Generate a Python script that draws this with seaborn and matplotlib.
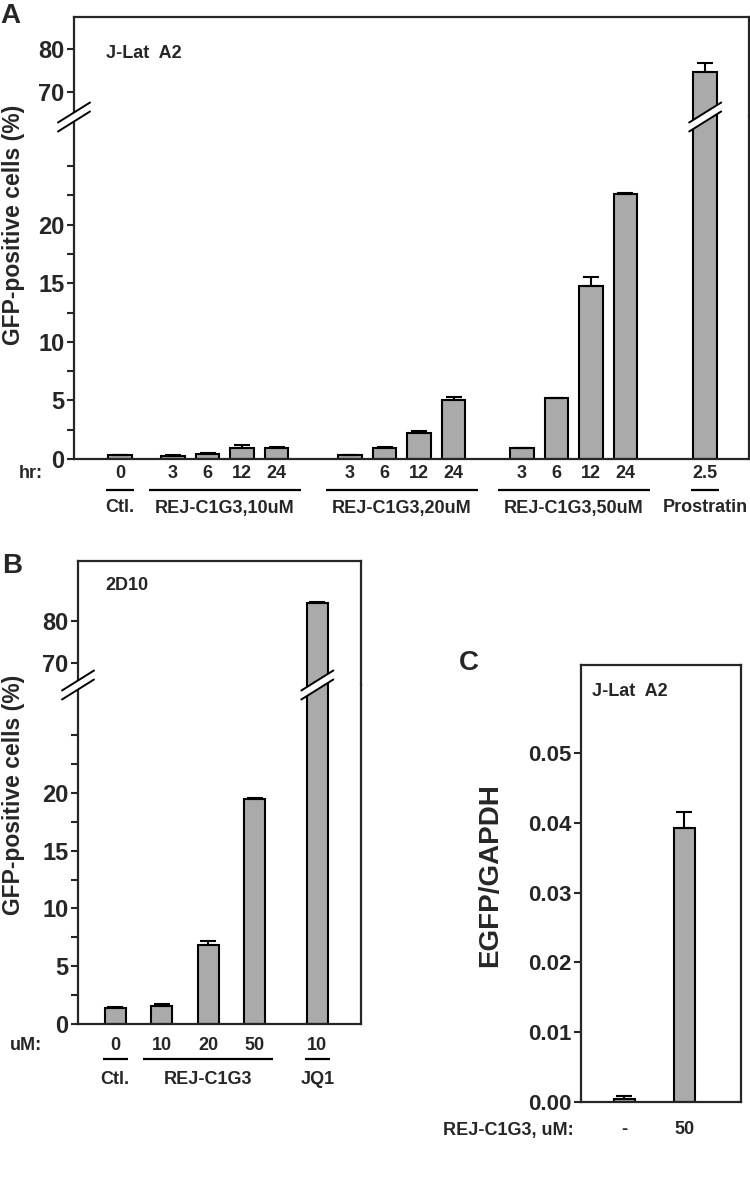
import numpy as np
import pandas as pd
import matplotlib
matplotlib.use("Agg")
import matplotlib.pyplot as plt
import seaborn as sns
from matplotlib.patches import Polygon
from matplotlib.lines import Line2D
from matplotlib.transforms import blended_transform_factory, ScaledTranslation

# panel A: J-Lat A2, GFP-positive cells (%)
a_group = (['Ctl.'] + ['REJ-C1G3,10uM'] * 4 + ['REJ-C1G3,20uM'] * 4
           + ['REJ-C1G3,50uM'] * 4 + ['Prostratin'])
a_hours = ['0', '3', '6', '12', '24', '3', '6', '12', '24', '3', '6', '12', '24', '2.5']
a_mean = [0.3, 0.25, 0.45, 0.95, 0.95, 0.3, 0.95, 2.25, 5.0, 0.9, 5.2, 14.8, 22.6, 74.6]
a_err = [0.05, 0.05, 0.05, 0.25, 0.05, 0.05, 0.05, 0.1, 0.3, 0.05, 0.05, 0.75, 0.1, 2.2]

# panel B: 2D10
b_group = ['Ctl.', 'REJ-C1G3', 'REJ-C1G3', 'REJ-C1G3', 'JQ1']
b_dose = ['0', '10', '20', '50', '10']
b_mean = [1.4, 1.55, 6.8, 19.5, 84.3]
b_err = [0.05, 0.15, 0.35, 0.1, 0.2]

# panel C: EGFP/GAPDH
c_dose = ['-', '50']
c_mean = [0.0004, 0.0393]
c_err = [0.0004, 0.0023]

BAR = '#aaaaaa'
NARROW = ['Liberation Sans Narrow', 'Liberation Sans', 'DejaVu Sans']
WIDE = ['Liberation Sans', 'DejaVu Sans']
TICK_FS = 17
CAT_FS = 13

sns.set_style('ticks')
plt.rcParams['font.family'] = NARROW
plt.rcParams['font.weight'] = 'bold'
plt.rcParams['axes.linewidth'] = 1.6
plt.rcParams['ytick.major.width'] = 1.5
plt.rcParams['ytick.minor.width'] = 1.5
plt.rcParams['ytick.major.size'] = 5
plt.rcParams['ytick.minor.size'] = 5
plt.rcParams['ytick.major.pad'] = 2

W, H = 750, 1193
fig = plt.figure(figsize=(W / 100, H / 100), dpi=100)


def px_axes(x0, y0, x1, y1):
    """axes from a pixel box, origin top-left"""
    return fig.add_axes([x0 / W, 1 - y1 / H, (x1 - x0) / W, (y1 - y0) / H])


def group_positions(groups, gaps):
    pos = []
    x = 0.0
    gi = 0
    for i, g in enumerate(groups):
        if i > 0:
            if g != groups[i - 1]:
                x += gaps[gi]
                gi += 1
            else:
                x += 1.0
        pos.append(x)
    return np.array(pos)


def draw_bars(ax, pos, mean, err, width):
    df = pd.DataFrame({'pos': pos, 'val': mean})
    sns.barplot(data=df, x='pos', y='val', native_scale=True, width=width,
                color=BAR, saturation=1, edgecolor='black', linewidth=1.5,
                errorbar=None, ax=ax)
    ax.errorbar(pos, mean, yerr=[np.zeros(len(err)), err], fmt='none',
                ecolor='black', elinewidth=1.5, capsize=5.5, capthick=1.5, zorder=3)
    ax.set_xlabel('')
    ax.set_ylabel('')


def below(ax, dy_px, data_x=True):
    base = blended_transform_factory(ax.transData if data_x else ax.transAxes, ax.transAxes)
    return base + ScaledTranslation(0, -dy_px / 100.0, fig.dpi_scale_trans)


def add_break(ax, x, data_x):
    tr = blended_transform_factory(ax.transData if data_x else ax.transAxes, ax.transAxes)
    cx, cy = tr.transform((x, 1.0))
    hw, hh, g = 16, 10, 9
    corners = np.array([(cx - hw, cy - hh - g / 2), (cx + hw, cy + hh - g / 2),
                        (cx + hw, cy + hh + g / 2), (cx - hw, cy - hh + g / 2)])
    pts = fig.transFigure.inverted().transform(corners)
    fig.add_artist(Polygon(pts, closed=True, facecolor='white', edgecolor='none',
                           transform=fig.transFigure, zorder=10))
    for a, b in [(0, 1), (3, 2)]:
        fig.add_artist(Line2D([pts[a, 0], pts[b, 0]], [pts[a, 1], pts[b, 1]], color='black',
                              lw=1.4, transform=fig.transFigure, zorder=11))


def broken_pair(top, bot, xlim, top_ylim, bot_ylim):
    for ax in (top, bot):
        ax.set_xlim(*xlim)
        ax.tick_params(axis='x', bottom=False, labelbottom=False)
        ax.tick_params(axis='y', labelsize=TICK_FS, direction='out')
    top.set_ylim(*top_ylim)
    bot.set_ylim(*bot_ylim)
    top.spines['bottom'].set_visible(False)
    bot.spines['top'].set_visible(False)
    top.set_yticks([70, 80])
    bot.set_yticks([0, 5, 10, 15, 20])
    bot.set_yticks([2.5, 7.5, 12.5, 17.5, 22.5, 25], minor=True)


def category_rows(ax, pos, values, groups, row_label, row_x, dy, single_half, group_pad):
    for p, v in zip(pos, values):
        ax.text(p, 0, v, transform=below(ax, dy[0]), ha='center', va='center', fontsize=CAT_FS)
    ax.text(row_x, 0, row_label, transform=below(ax, dy[0], data_x=False),
            ha='center', va='center', fontsize=CAT_FS)
    names = []
    for g in groups:
        if g not in names:
            names.append(g)
    for name in names:
        idx = [i for i, g in enumerate(groups) if g == name]
        first, last = pos[idx[0]], pos[idx[-1]]
        pad = single_half if len(idx) == 1 else group_pad
        ax.plot([first - pad, last + pad], [0, 0], transform=below(ax, dy[1]),
                color='black', lw=1.6, clip_on=False, solid_capstyle='butt')
        ax.text((first + last) / 2, 0, name, transform=below(ax, dy[2]),
                ha='center', va='center', fontsize=CAT_FS)


# ---------------- panel A ----------------
a_pos = group_positions(a_group, [1.54, 2.13, 1.98, 2.31])
axA_top = px_axes(74, 17, 749, 117)
axA_bot = px_axes(74, 117, 749, 459)
for ax in (axA_top, axA_bot):
    draw_bars(ax, a_pos, a_mean, a_err, 0.68)
broken_pair(axA_top, axA_bot, (-1.33, 18.23), (64.2, 87.4), (0, 29.2))
axA_top.text(0.047, 0.63, 'J-Lat  A2', transform=axA_top.transAxes, fontsize=CAT_FS,
             ha='left', va='center')
category_rows(axA_bot, a_pos, a_hours, a_group, 'hr:', (31 - 74) / 675,
              (15, 31, 49), 0.4, 0.7)
add_break(axA_bot, 0, data_x=False)
add_break(axA_bot, a_pos[-1], data_x=True)
fig.text(10 / W, 1 - 16 / H, 'A', fontsize=20, ha='center', va='center')
fig.text(14 / W, 1 - 225 / H, 'GFP-positive cells (%)', rotation=90, fontsize=16.5,
         family=WIDE, ha='center', va='center')

# ---------------- panel B ----------------
b_pos = group_positions(b_group, [1.0, 1.35])
axB_top = px_axes(78, 561, 361, 685)
axB_bot = px_axes(78, 685, 361, 1024)
for ax in (axB_top, axB_bot):
    draw_bars(ax, b_pos, b_mean, b_err, 0.45)
broken_pair(axB_top, axB_bot, (-0.8, 5.29), (64.8, 94.3), (0, 29.35))
axB_top.text(0.095, 0.8, '2D10', transform=axB_top.transAxes, fontsize=CAT_FS,
             ha='left', va='center')
category_rows(axB_bot, b_pos, b_dose, b_group, 'uM:', (26 - 78) / 283,
              (21, 35, 56), 0.27, 0.4)
add_break(axB_bot, 0, data_x=False)
add_break(axB_bot, b_pos[-1], data_x=True)
fig.text(12 / W, 1 - 566 / H, 'B', fontsize=20, ha='center', va='center')
fig.text(14 / W, 1 - 795 / H, 'GFP-positive cells (%)', rotation=90, fontsize=16.5,
         family=WIDE, ha='center', va='center')

# ---------------- panel C ----------------
c_pos = np.array([0.0, 1.0])
axC = px_axes(581, 665, 741, 1102)
draw_bars(axC, c_pos, c_mean, c_err, 0.35)
axC.set_xlim(-0.717, 1.95)
axC.set_ylim(0, 0.0626)
axC.set_yticks([0, 0.01, 0.02, 0.03, 0.04, 0.05])
axC.set_yticklabels(['0.00', '0.01', '0.02', '0.03', '0.04', '0.05'])
axC.tick_params(axis='y', labelsize=TICK_FS - 1, direction='out')
axC.tick_params(axis='x', bottom=False, labelbottom=False)
axC.text(0.069, 0.94, 'J-Lat  A2', transform=axC.transAxes, fontsize=CAT_FS,
         ha='left', va='center')
for p, v in zip(c_pos, c_dose):
    axC.text(p, 0, v, transform=below(axC, 28), ha='center', va='center', fontsize=CAT_FS)
axC.text((508 - 581) / 160, 0, 'REJ-C1G3, uM:', transform=below(axC, 28, data_x=False),
         ha='center', va='center', fontsize=CAT_FS)
fig.text(469 / W, 1 - 663 / H, 'C', fontsize=20, ha='center', va='center')
fig.text(490 / W, 1 - 875 / H, 'EGFP/GAPDH', rotation=90, fontsize=20,
         family=WIDE, ha='center', va='center')

fig.savefig('out.png', dpi=100)
